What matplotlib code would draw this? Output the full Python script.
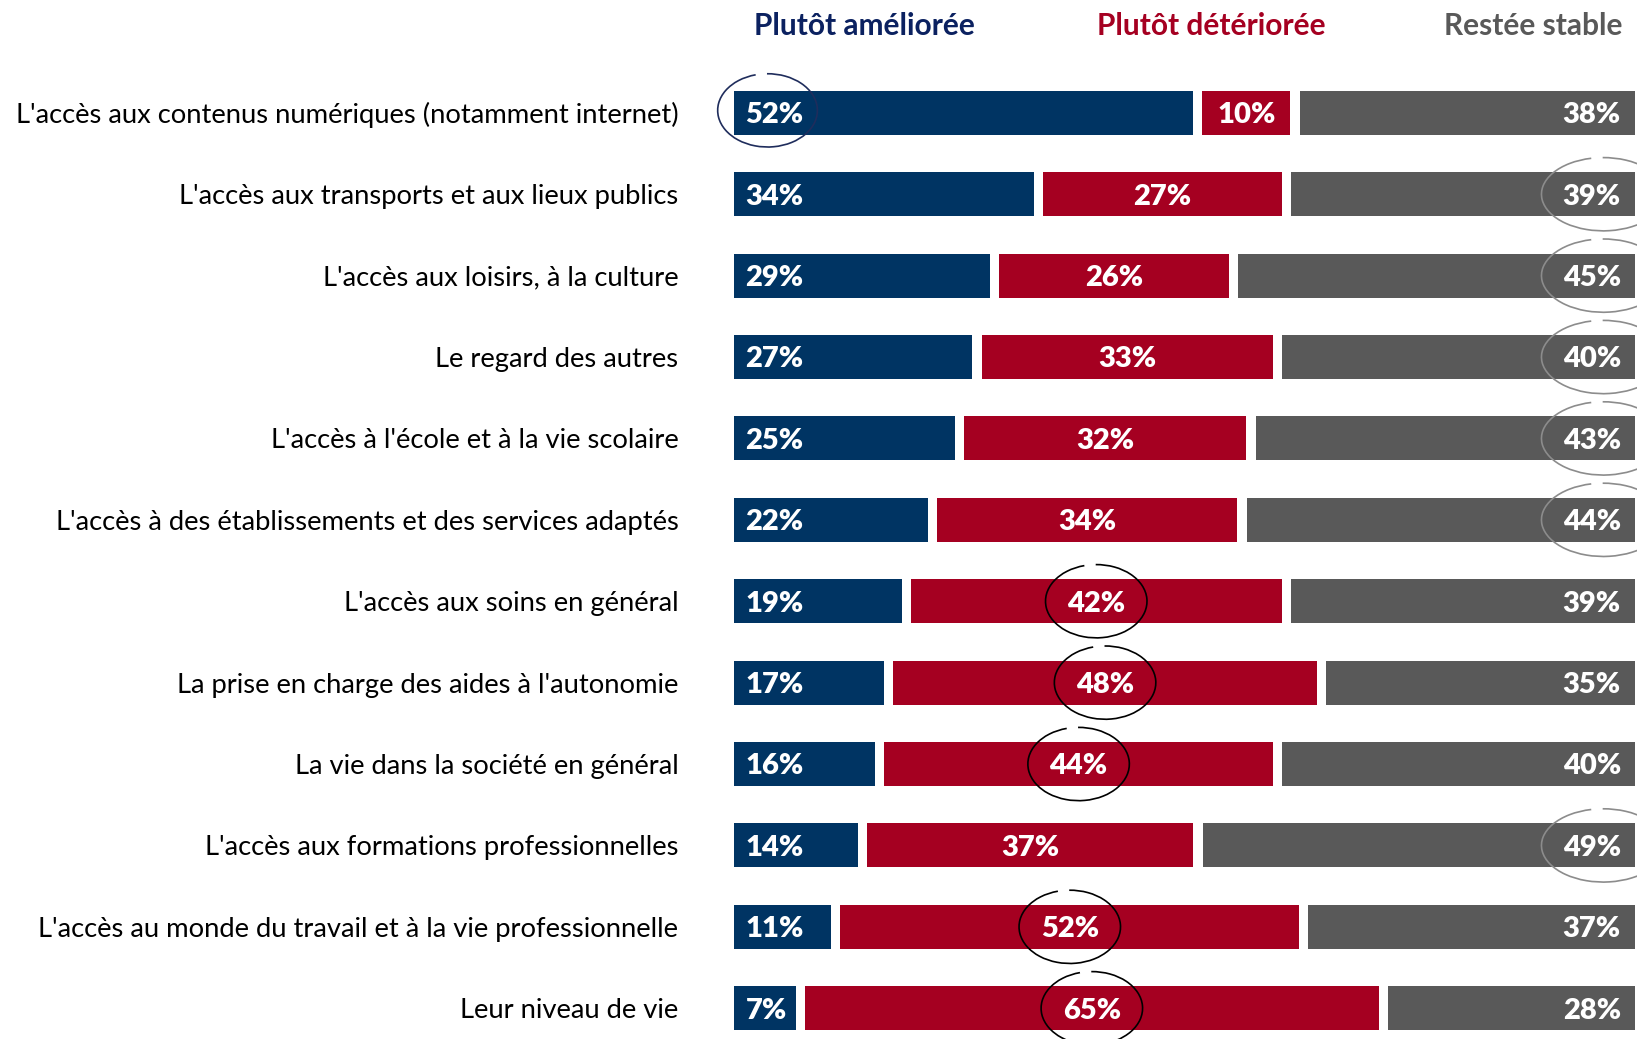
import matplotlib
matplotlib.use('Agg')
from matplotlib import pyplot as plt
from matplotlib.patches import Arc

plt.rcParams['font.family'] = ['Lato', 'DejaVu Sans']

# données
categories = [
    "L'accès aux contenus numériques (notamment internet)",
    "L'accès aux transports et aux lieux publics",
    "L'accès aux loisirs, à la culture",
    "Le regard des autres",
    "L'accès à l'école et à la vie scolaire",
    "L'accès à des établissements et des services adaptés",
    "L'accès aux soins en général",
    "La prise en charge des aides à l'autonomie",
    "La vie dans la société en général",
    "L'accès aux formations professionnelles",
    "L'accès au monde du travail et à la vie professionnelle",
    "Leur niveau de vie",
]
ameliore = [52, 34, 29, 27, 25, 22, 19, 17, 16, 14, 11, 7]
deteriore = [10, 27, 26, 33, 32, 34, 42, 48, 44, 37, 52, 65]
stable = [38, 39, 45, 40, 43, 44, 39, 35, 40, 49, 37, 28]
series_names = ['Plutôt améliorée', 'Plutôt détériorée', 'Restée stable']

# valeurs entourées (index de ligne)
cercle_bleu = [0]
cercle_rouge = [6, 7, 8, 10, 11]
cercle_gris = [1, 2, 3, 4, 5, 9]

bleu = '#003463'
rouge = '#A50021'
gris = '#595959'
gap = 1.05

fig = plt.figure(figsize=(16.37, 10.39), dpi=100)
W, H = 1637, 1039
ax = fig.add_axes([734 / W, 0, (1635 - 734) / W, 1])
ax.set_xlim(0, 100 + 2 * gap)
ax.set_ylim(11.378, -1.386)

y = list(range(len(categories)))
left_red = [a + gap for a in ameliore]
left_gray = [a + d + 2 * gap for a, d in zip(ameliore, deteriore)]
h = 0.54
ax.barh(y, ameliore, height=h, color=bleu)
ax.barh(y, deteriore, left=left_red, height=h, color=rouge)
ax.barh(y, stable, left=left_gray, height=h, color=gris)

lab = dict(color='white', fontsize=21, fontweight='heavy', va='center')
for i in y:
    ax.text(1.3, i + 0.03, f'{ameliore[i]}%', ha='left', **lab)
    ax.text(left_red[i] + deteriore[i] / 2, i + 0.03, f'{deteriore[i]}%', ha='center', **lab)
    ax.text(100 + 2 * gap - 1.6, i + 0.03, f'{stable[i]}%', ha='right', **lab)

# ellipses (ouvertes en haut à gauche)
def ellipse(xc, yc, w, col):
    ax.add_patch(Arc((xc, yc), w, 0.9, theta1=262, theta2=198,
                     color=col, lw=1.2, clip_on=False))

for i in cercle_bleu:
    ellipse(3.8, i - 0.03, 11.3, '#1F2D5C')
for i in cercle_rouge:
    ellipse(left_red[i] + deteriore[i] / 2, i, 11.5, 'black')
for i in cercle_gris:
    ellipse(98.5, i, 14, '#8C8C8C')

ax.set_yticks(y)
ax.set_yticklabels(categories, fontsize=19.7)
ax.tick_params(axis='y', length=0, pad=40)
ax.set_xticks([])
for s in ax.spines.values():
    s.set_visible(False)

# en-têtes
hy = 1 - 26 / H
fig.text(864 / W, hy, series_names[0], color='#0B2160', fontsize=21.5, fontweight='bold', ha='center', va='center')
fig.text(1211 / W, hy, series_names[1], color=rouge, fontsize=21.5, fontweight='bold', ha='center', va='center')
fig.text(1623 / W, hy, series_names[2], color=gris, fontsize=21.5, fontweight='bold', ha='right', va='center')

plt.savefig('out.png', dpi=100)
